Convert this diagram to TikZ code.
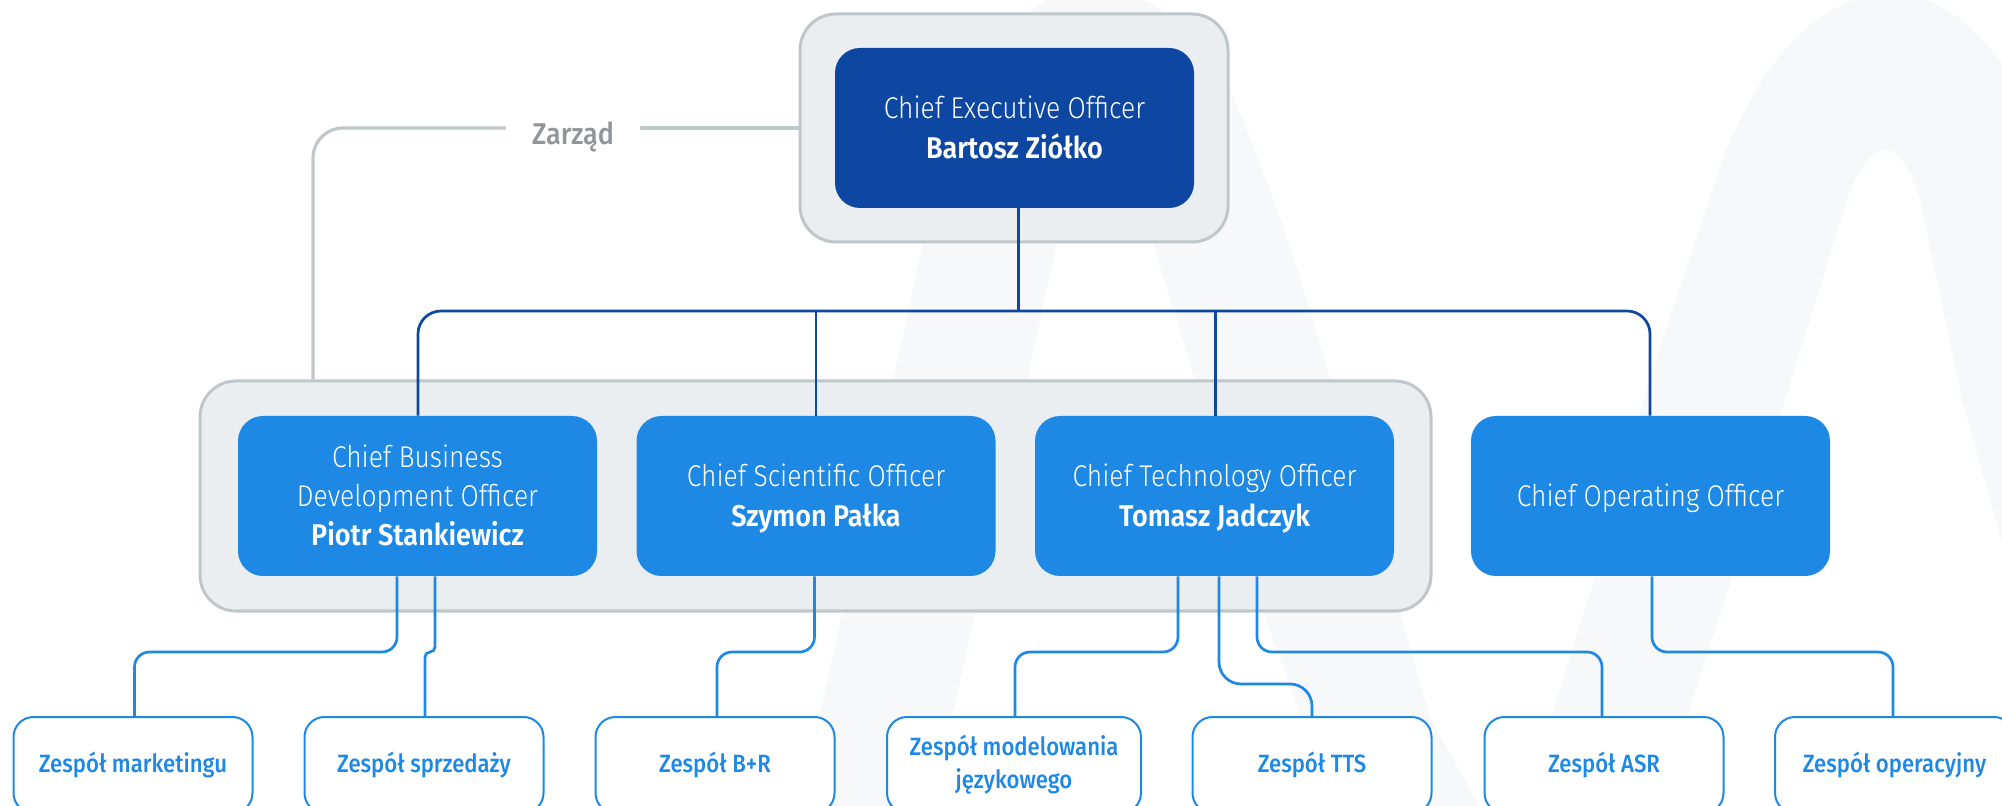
\documentclass[tikz,border=0pt]{standalone}
\usepackage{fontspec}
\usetikzlibrary{calc}
\newfontfamily\lightf[FakeStretch=0.88]{Fira Sans Light}
\newfontfamily\boldf[FakeStretch=0.90]{Fira Sans SemiBold}
\newfontfamily\medf[FakeStretch=0.885]{Fira Sans Medium}
\newfontfamily\labelf[FakeStretch=0.90]{Fira Sans Medium}
\newcommand{\chiefstrut}{\rule[-3.6pt]{0pt}{17.4pt}}
\newcommand{\chieftop}{\rule{0pt}{16.4pt}}
\newcommand{\teamstrut}{\rule[-3.6pt]{0pt}{14.2pt}}
\definecolor{navy}{HTML}{0D47A1}
\definecolor{azure}{HTML}{1E88E5}
\definecolor{edgegray}{HTML}{BFC7CB}
\definecolor{panel}{HTML}{EBEEF1}
\definecolor{wm}{HTML}{F7F8FA}
\definecolor{labelgray}{HTML}{8F9599}
\tikzset{
  x=0.5pt,y=-0.5pt,
  panelbox/.style={draw=edgegray,fill=panel,line width=1.5pt,rounded corners=18pt,inner sep=0pt},
  chief/.style={fill=azure,text=white,rounded corners=12.5pt,minimum width=179.5pt,minimum height=80pt,inner sep=0pt,align=center,
     font=\lightf\fontsize{15}{19.7}\selectfont},
  ceobox/.style={chief,fill=navy},
  team/.style={draw=azure,fill=white,line width=1pt,rounded corners=10pt,minimum width=119.5pt,minimum height=48pt,inner sep=0pt,align=center,text=azure,
     font=\medf\fontsize{12.5}{16.8}\selectfont},
  teamwide/.style={team,minimum width=127pt},
  navyline/.style={draw=navy,line width=1.35pt,rounded corners=11.5pt},
  azureline/.style={draw=azure,line width=1.35pt,rounded corners=7.5pt},
  grayline/.style={draw=edgegray,line width=1.6pt,rounded corners=15pt},
  boardlabel/.style={text=labelgray,inner sep=0pt,font=\labelf\fontsize{15}{18}\selectfont},
}
\begin{document}
\begin{tikzpicture}
\useasboundingbox (0,0) rectangle (2002,806);
\begin{scope}
\clip (0,0) rectangle (2002,806);
% watermark
\fill[wm] (800,806) -- (893,380) -- (923,243)
  .. controls (955,110) and (995,0) .. (1085,-12)
  .. controls (1160,-12) and (1205,40) .. (1230,90)
  .. controls (1255,145) and (1275,205) .. (1297,267)
  -- (1400,612) -- (1430,717) -- (1479,806) -- (1334,806) -- (1300,713) -- (1263,612) -- (1195,380) -- (1153,243)
  .. controls (1135,185) and (1125,150) .. (1105,150)
  .. controls (1085,150) and (1070,190) .. (1057,243)
  -- (1027,380) -- (953,713) -- (933,806) -- cycle;
\fill[wm] (1523,806) -- (1551,717) -- (1595,577) -- (1650,377) -- (1723,157)
  .. controls (1755,80) and (1800,5) .. (1885,-8)
  .. controls (1940,-8) and (1980,30) .. (2010,75)
  -- (2010,806) -- (2010,570) -- (1962,400) -- (1920,200)
  .. controls (1910,170) and (1900,150) .. (1885,150)
  .. controls (1870,150) and (1855,175) .. (1847,200)
  -- (1785,400) -- (1732,577) -- (1687,717) -- (1659,806) -- cycle;
\end{scope}
% panels
\node[panelbox,minimum width=214pt,minimum height=114pt] (ceopanel) at (1014,128) {};
\node[panelbox,minimum width=615.5pt,minimum height=115pt] (grouppanel) at (815.5,496) {};
% executive and chiefs
\node[ceobox] (ceo) at (1014.5,128) {\chieftop Chief Executive Officer\\{\boldf\strut Bartosz Ziółko}};
\node[chief] (cbdo) at (417.5,496) {\chieftop Chief Business\\Development Officer\\{\boldf\strut Piotr Stankiewicz}};
\node[chief] (cso) at (816,496) {\chieftop Chief Scientific Officer\\{\boldf\strut Szymon Pałka}};
\node[chief] (cto) at (1214.5,496) {\chieftop Chief Technology Officer\\{\boldf\strut Tomasz Jadczyk}};
\node[chief] (coo) at (1650.5,496) {\chiefstrut Chief Operating Officer};
% teams
\begin{scope}
\clip (0,0) rectangle (2002,806);
\node[team] (tmkt) at (133,765) {\teamstrut Zespół marketingu};
\node[team] (tsales) at (424,765) {\teamstrut Zespół sprzedaży};
\node[team] (tbr) at (715,765) {\teamstrut Zespół B+R};
\node[teamwide] (tlang) at (1014,765) {\teamstrut Zespół modelowania\\\teamstrut językowego};
\node[team] (ttts) at (1312,765) {\teamstrut Zespół TTS};
\node[team] (tasr) at (1604,765) {\teamstrut Zespół ASR};
\node[team] (tops) at (1894.5,765) {\teamstrut Zespół operacyjny};
\end{scope}
% board label and its connector
\node[boardlabel] (board) at (573,137) {Zarząd};
\coordinate (boardleft) at (506,128);
\coordinate (boardright) at (640,128);
\draw[grayline] (boardleft) -- (313,128) -- (313,0 |- grouppanel.north);
\draw[grayline] (boardright) -- (0,128 -| ceopanel.west);
% navy connectors
\coordinate (bus) at (1018.5,311);
\draw[navyline] (1018.5,0 |- ceo.south) -- (bus);
\draw[navyline] (418,0 |- cbdo.north) -- (418,311) -- (1650,311) -- (1650,0 |- coo.north);
\draw[navyline] (816,311) -- (816,0 |- cso.north);
\draw[navyline] (1215.5,311) -- (1215.5,0 |- cto.north);
% azure connectors
\draw[azureline] (397,0 |- cbdo.south) -- (397,652) -- (134.5,652) -- (134.5,0 |- tmkt.north);
\draw[azureline,rounded corners=2.5pt] (435,0 |- cbdo.south) -- (435,652) -- (425,652) -- (425,0 |- tsales.north);
\draw[azureline] (814.5,0 |- cso.south) -- (814.5,652) -- (717,652) -- (717,0 |- tbr.north);
\draw[azureline] (1178,0 |- cto.south) -- (1178,652) -- (1015,652) -- (1015,0 |- tlang.north);
\draw[azureline,rounded corners=11pt] (1219,0 |- cto.south) -- (1219,684) -- (1312,684) -- (1312,0 |- ttts.north);
\draw[azureline] (1257,0 |- cto.south) -- (1257,652) -- (1602,652) -- (1602,0 |- tasr.north);
\draw[azureline] (1652,0 |- coo.south) -- (1652,652) -- (1893,652) -- (1893,0 |- tops.north);
\end{tikzpicture}
\end{document}
